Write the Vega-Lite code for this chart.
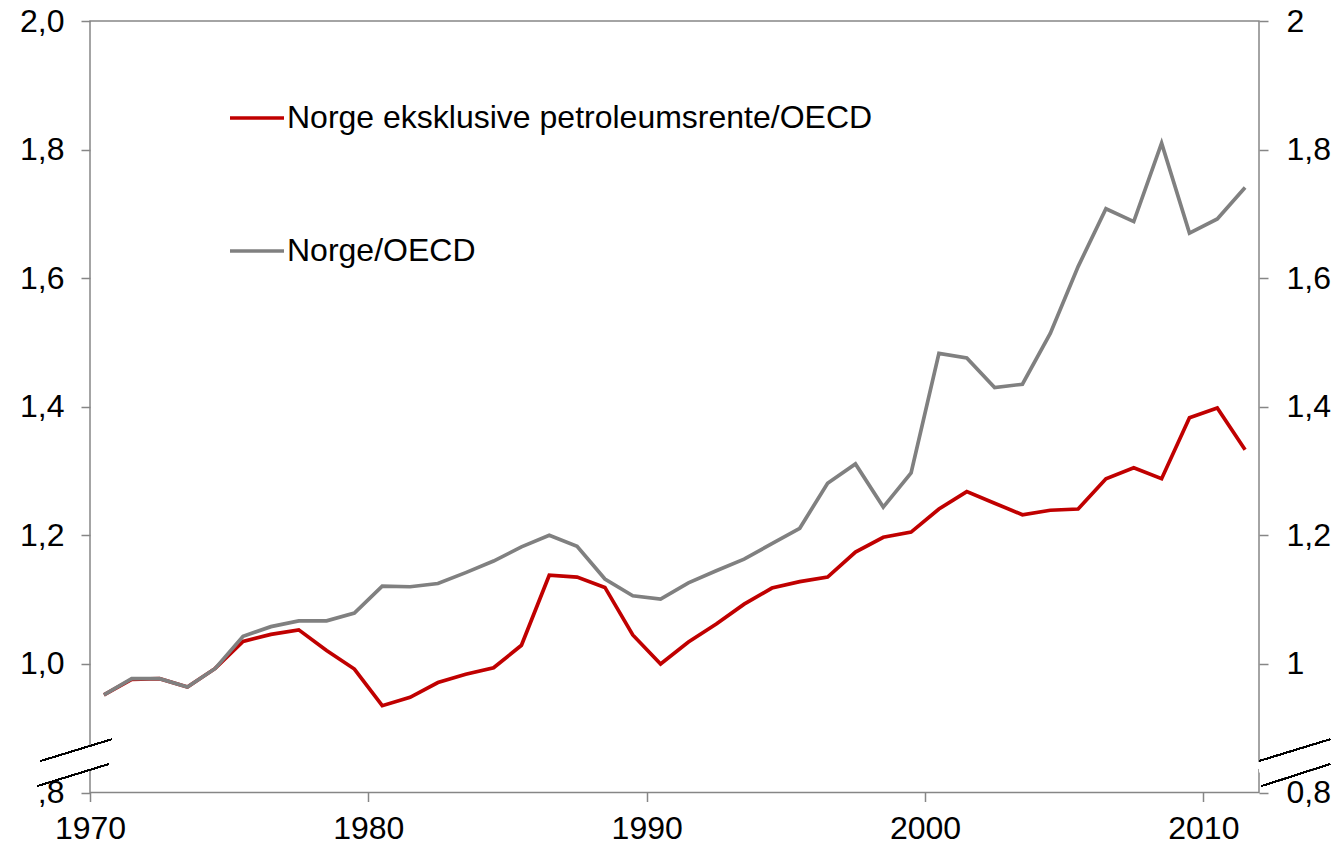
{
  "$schema": "https://vega.github.io/schema/vega-lite/v6.json",
  "width": 1169,
  "height": 771.5,
  "autosize": {"type": "none"},
  "padding": {"left": 90, "top": 21, "right": 77, "bottom": 54.5},
  "background": "white",
  "config": {
    "view": {"stroke": "#868686", "strokeWidth": 1.5},
    "font": "Liberation Sans",
    "axis": {"labelFont": "Liberation Sans", "labelColor": "black", "labelFontSize": 32, "tickColor": "#868686", "tickWidth": 1.5, "tickSize": 9, "domain": false, "grid": false, "title": null, "labelOverlap": false, "labelFlush": false}
  },
  "data": {"values": [
    {"year": "1970", "series": "Norge eksklusive petroleumsrente/OECD", "value": 0.952},
    {"year": "1971", "series": "Norge eksklusive petroleumsrente/OECD", "value": 0.976},
    {"year": "1972", "series": "Norge eksklusive petroleumsrente/OECD", "value": 0.977},
    {"year": "1973", "series": "Norge eksklusive petroleumsrente/OECD", "value": 0.964},
    {"year": "1974", "series": "Norge eksklusive petroleumsrente/OECD", "value": 0.993},
    {"year": "1975", "series": "Norge eksklusive petroleumsrente/OECD", "value": 1.035},
    {"year": "1976", "series": "Norge eksklusive petroleumsrente/OECD", "value": 1.046},
    {"year": "1977", "series": "Norge eksklusive petroleumsrente/OECD", "value": 1.053},
    {"year": "1978", "series": "Norge eksklusive petroleumsrente/OECD", "value": 1.021},
    {"year": "1979", "series": "Norge eksklusive petroleumsrente/OECD", "value": 0.992},
    {"year": "1980", "series": "Norge eksklusive petroleumsrente/OECD", "value": 0.935},
    {"year": "1981", "series": "Norge eksklusive petroleumsrente/OECD", "value": 0.948},
    {"year": "1982", "series": "Norge eksklusive petroleumsrente/OECD", "value": 0.971},
    {"year": "1983", "series": "Norge eksklusive petroleumsrente/OECD", "value": 0.984},
    {"year": "1984", "series": "Norge eksklusive petroleumsrente/OECD", "value": 0.994},
    {"year": "1985", "series": "Norge eksklusive petroleumsrente/OECD", "value": 1.029},
    {"year": "1986", "series": "Norge eksklusive petroleumsrente/OECD", "value": 1.138},
    {"year": "1987", "series": "Norge eksklusive petroleumsrente/OECD", "value": 1.135},
    {"year": "1988", "series": "Norge eksklusive petroleumsrente/OECD", "value": 1.119},
    {"year": "1989", "series": "Norge eksklusive petroleumsrente/OECD", "value": 1.045},
    {"year": "1990", "series": "Norge eksklusive petroleumsrente/OECD", "value": 1.000},
    {"year": "1991", "series": "Norge eksklusive petroleumsrente/OECD", "value": 1.034},
    {"year": "1992", "series": "Norge eksklusive petroleumsrente/OECD", "value": 1.062},
    {"year": "1993", "series": "Norge eksklusive petroleumsrente/OECD", "value": 1.093},
    {"year": "1994", "series": "Norge eksklusive petroleumsrente/OECD", "value": 1.118},
    {"year": "1995", "series": "Norge eksklusive petroleumsrente/OECD", "value": 1.128},
    {"year": "1996", "series": "Norge eksklusive petroleumsrente/OECD", "value": 1.135},
    {"year": "1997", "series": "Norge eksklusive petroleumsrente/OECD", "value": 1.174},
    {"year": "1998", "series": "Norge eksklusive petroleumsrente/OECD", "value": 1.197},
    {"year": "1999", "series": "Norge eksklusive petroleumsrente/OECD", "value": 1.205},
    {"year": "2000", "series": "Norge eksklusive petroleumsrente/OECD", "value": 1.241},
    {"year": "2001", "series": "Norge eksklusive petroleumsrente/OECD", "value": 1.268},
    {"year": "2002", "series": "Norge eksklusive petroleumsrente/OECD", "value": 1.250},
    {"year": "2003", "series": "Norge eksklusive petroleumsrente/OECD", "value": 1.232},
    {"year": "2004", "series": "Norge eksklusive petroleumsrente/OECD", "value": 1.239},
    {"year": "2005", "series": "Norge eksklusive petroleumsrente/OECD", "value": 1.241},
    {"year": "2006", "series": "Norge eksklusive petroleumsrente/OECD", "value": 1.288},
    {"year": "2007", "series": "Norge eksklusive petroleumsrente/OECD", "value": 1.305},
    {"year": "2008", "series": "Norge eksklusive petroleumsrente/OECD", "value": 1.288},
    {"year": "2009", "series": "Norge eksklusive petroleumsrente/OECD", "value": 1.383},
    {"year": "2010", "series": "Norge eksklusive petroleumsrente/OECD", "value": 1.398},
    {"year": "2011", "series": "Norge eksklusive petroleumsrente/OECD", "value": 1.333},
    {"year": "1970", "series": "Norge/OECD", "value": 0.952},
    {"year": "1971", "series": "Norge/OECD", "value": 0.977},
    {"year": "1972", "series": "Norge/OECD", "value": 0.977},
    {"year": "1973", "series": "Norge/OECD", "value": 0.964},
    {"year": "1974", "series": "Norge/OECD", "value": 0.993},
    {"year": "1975", "series": "Norge/OECD", "value": 1.043},
    {"year": "1976", "series": "Norge/OECD", "value": 1.058},
    {"year": "1977", "series": "Norge/OECD", "value": 1.067},
    {"year": "1978", "series": "Norge/OECD", "value": 1.067},
    {"year": "1979", "series": "Norge/OECD", "value": 1.079},
    {"year": "1980", "series": "Norge/OECD", "value": 1.121},
    {"year": "1981", "series": "Norge/OECD", "value": 1.120},
    {"year": "1982", "series": "Norge/OECD", "value": 1.125},
    {"year": "1983", "series": "Norge/OECD", "value": 1.142},
    {"year": "1984", "series": "Norge/OECD", "value": 1.160},
    {"year": "1985", "series": "Norge/OECD", "value": 1.182},
    {"year": "1986", "series": "Norge/OECD", "value": 1.200},
    {"year": "1987", "series": "Norge/OECD", "value": 1.183},
    {"year": "1988", "series": "Norge/OECD", "value": 1.132},
    {"year": "1989", "series": "Norge/OECD", "value": 1.106},
    {"year": "1990", "series": "Norge/OECD", "value": 1.101},
    {"year": "1991", "series": "Norge/OECD", "value": 1.126},
    {"year": "1992", "series": "Norge/OECD", "value": 1.145},
    {"year": "1993", "series": "Norge/OECD", "value": 1.163},
    {"year": "1994", "series": "Norge/OECD", "value": 1.187},
    {"year": "1995", "series": "Norge/OECD", "value": 1.211},
    {"year": "1996", "series": "Norge/OECD", "value": 1.281},
    {"year": "1997", "series": "Norge/OECD", "value": 1.311},
    {"year": "1998", "series": "Norge/OECD", "value": 1.244},
    {"year": "1999", "series": "Norge/OECD", "value": 1.297},
    {"year": "2000", "series": "Norge/OECD", "value": 1.483},
    {"year": "2001", "series": "Norge/OECD", "value": 1.476},
    {"year": "2002", "series": "Norge/OECD", "value": 1.430},
    {"year": "2003", "series": "Norge/OECD", "value": 1.435},
    {"year": "2004", "series": "Norge/OECD", "value": 1.514},
    {"year": "2005", "series": "Norge/OECD", "value": 1.618},
    {"year": "2006", "series": "Norge/OECD", "value": 1.708},
    {"year": "2007", "series": "Norge/OECD", "value": 1.688},
    {"year": "2008", "series": "Norge/OECD", "value": 1.810},
    {"year": "2009", "series": "Norge/OECD", "value": 1.670},
    {"year": "2010", "series": "Norge/OECD", "value": 1.692},
    {"year": "2011", "series": "Norge/OECD", "value": 1.741}
  ]},
  "resolve": {"axis": {"y": "independent"}},
  "layer": [
    {
      "mark": {"type": "line", "strokeWidth": 3.7},
      "encoding": {
        "x": {
          "field": "year", "timeUnit": "utcyear", "type": "temporal", "bandPosition": 0.5,
          "scale": {"type": "utc", "domain": [{"year": 1970, "utc": true}, {"year": 2012, "utc": true}], "nice": false},
          "axis": {
            "orient": "bottom",
            "values": [{"year": 1970, "utc": true}, {"year": 1980, "utc": true}, {"year": 1990, "utc": true}, {"year": 2000, "utc": true}, {"year": 2010, "utc": true}],
            "format": "%Y", "formatType": "utc", "labelPadding": 12
          }
        },
        "y": {
          "field": "value", "type": "quantitative",
          "scale": {"domain": [0.8, 2.0], "nice": false, "zero": false},
          "axis": {
            "orient": "left",
            "values": [0.8, 1, 1.2, 1.4, 1.6, 1.8, 2],
            "labelExpr": "datum.value < 0.9 ? ',8' : replace(format(datum.value, '.1f'), '.', ',')",
            "labelPadding": 17
          }
        },
        "color": {
          "field": "series", "type": "nominal",
          "scale": {"domain": ["Norge eksklusive petroleumsrente/OECD", "Norge/OECD"], "range": ["#C00000", "#808080"]},
          "legend": {
            "orient": "none", "legendX": 138, "legendY": 68, "title": null, "padding": 0,
            "symbolType": "stroke", "symbolSize": 2916, "symbolStrokeWidth": 3.7,
            "labelFontSize": 32, "labelFont": "Liberation Sans", "labelColor": "black",
            "labelOffset": 1, "rowPadding": 88, "labelLimit": 0
          }
        }
      }
    },
    {
      "mark": {"type": "line", "opacity": 0},
      "encoding": {
        "x": {"field": "year", "timeUnit": "utcyear", "type": "temporal", "bandPosition": 0.5},
        "y": {
          "field": "value", "type": "quantitative",
          "axis": {
            "orient": "right",
            "values": [0.8, 1, 1.2, 1.4, 1.6, 1.8, 2],
            "labelExpr": "replace(format(datum.value, '.1~f'), '.', ',')",
            "labelPadding": 18
          }
        }
      }
    },
    {
      "mark": {"type": "rule", "color": "white", "strokeWidth": 22, "strokeCap": "butt"},
      "encoding": {
        "x": {"datum": {"year": 1968, "month": 3, "date": 4, "utc": true}, "type": "temporal"},
        "x2": {"datum": {"year": 1970, "month": 9, "date": 23, "utc": true}},
        "y": {"datum": 0.8296, "type": "quantitative", "axis": null},
        "y2": {"datum": 0.8636}
      }
    },
    {
      "mark": {"type": "rule", "color": "white", "strokeWidth": 22, "strokeCap": "butt"},
      "encoding": {
        "x": {"datum": {"year": 2012, "month": 1, "date": 19, "utc": true}, "type": "temporal"},
        "x2": {"datum": {"year": 2014, "month": 7, "date": 22, "utc": true}},
        "y": {"datum": 0.8296, "type": "quantitative", "axis": null},
        "y2": {"datum": 0.8636}
      }
    },
    {
      "mark": {"type": "rule", "color": "black", "strokeWidth": 1.2},
      "encoding": {
        "x": {"datum": {"year": 1968, "month": 3, "date": 24, "utc": true}, "type": "temporal"},
        "x2": {"datum": {"year": 1970, "month": 10, "date": 12, "utc": true}},
        "y": {"datum": 0.849, "type": "quantitative", "axis": null},
        "y2": {"datum": 0.8828}
      }
    },
    {
      "mark": {"type": "rule", "color": "black", "strokeWidth": 1.2},
      "encoding": {
        "x": {"datum": {"year": 1968, "month": 2, "date": 13, "utc": true}, "type": "temporal"},
        "x2": {"datum": {"year": 1970, "month": 9, "date": 6, "utc": true}},
        "y": {"datum": 0.8101, "type": "quantitative", "axis": null},
        "y2": {"datum": 0.8443}
      }
    },
    {
      "mark": {"type": "rule", "color": "black", "strokeWidth": 1.2},
      "encoding": {
        "x": {"datum": {"year": 2012, "month": 1, "date": 2, "utc": true}, "type": "temporal"},
        "x2": {"datum": {"year": 2014, "month": 7, "date": 22, "utc": true}},
        "y": {"datum": 0.849, "type": "quantitative", "axis": null},
        "y2": {"datum": 0.8828}
      }
    },
    {
      "mark": {"type": "rule", "color": "black", "strokeWidth": 1.2},
      "encoding": {
        "x": {"datum": {"year": 2012, "month": 2, "date": 5, "utc": true}, "type": "temporal"},
        "x2": {"datum": {"year": 2014, "month": 7, "date": 22, "utc": true}},
        "y": {"datum": 0.8101, "type": "quantitative", "axis": null},
        "y2": {"datum": 0.8443}
      }
    }
  ]
}
